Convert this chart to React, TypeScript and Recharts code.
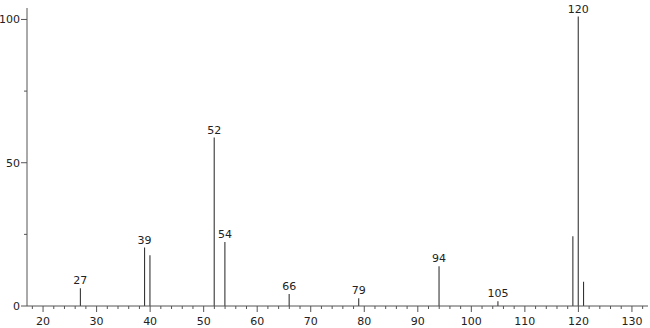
import React from 'react';
import { ComposedChart, Bar, XAxis, YAxis, LabelList } from 'recharts';

// m/z and relative intensity
const mzValues = [27, 39, 40, 52, 54, 66, 79, 94, 105, 119, 120, 121];
const intensities = [6.2, 20.4, 17.7, 58.8, 22.3, 4.2, 2.7, 13.9, 1.7, 24.3, 101, 8.5];
const labelledPeaks = [27, 39, 52, 54, 66, 79, 94, 105, 120];

const xTicks = [18, 20, 22, 24, 26, 28, 30, 32, 34, 36, 38, 40, 42, 44, 46, 48, 50, 52, 54, 56, 58, 60,
  62, 64, 66, 68, 70, 72, 74, 76, 78, 80, 82, 84, 86, 88, 90, 92, 94, 96, 98, 100, 102, 104, 106, 108,
  110, 112, 114, 116, 118, 120, 122, 124, 126, 128, 130, 132];
const yTicks = [0, 25, 50, 75, 100];

const data = mzValues.map((mz, i) => ({
  mz,
  value: intensities[i],
  label: labelledPeaks.includes(mz) ? String(mz) : '',
}));

const FONT = '"DejaVu Sans", sans-serif';
const INK = '#222';

const XTick = (props: any) => {
  const { x, y, payload } = props;
  const major = payload.value % 10 === 0;
  return (
    <g>
      <line x1={x} x2={x} y1={y} y2={y + (major ? 6 : 3)} stroke="#555" strokeWidth={1} />
      {major && (
        <text x={x} y={y + 19} textAnchor="middle" fontSize={11} fontFamily={FONT} fill={INK}>
          {payload.value}
        </text>
      )}
    </g>
  );
};

const YTick = (props: any) => {
  const { x, y, payload } = props;
  const major = payload.value % 50 === 0;
  return (
    <g>
      <line x1={x - (major ? 6 : 3)} x2={x} y1={y} y2={y} stroke="#555" strokeWidth={1} />
      {major && (
        <text x={x - 7} y={y + 4} textAnchor="end" fontSize={11} fontFamily={FONT} fill={INK}>
          {payload.value}
        </text>
      )}
    </g>
  );
};

const PeakLabel = (props: any) => {
  const { x, y, width, value } = props;
  if (!value) return null;
  return (
    <text x={x + width / 2} y={y - 4} textAnchor="middle" fontSize={11} fontFamily={FONT} fill={INK}>
      {value}
    </text>
  );
};

const App: React.FC = () => {
  return (
    <div style={{ position: 'absolute', left: 0, top: 0, background: '#fff' }}>
      <ComposedChart width={650} height={328} data={data} margin={{ top: 8, right: 2, bottom: 2, left: 0 }}>
        <XAxis
          dataKey="mz"
          type="number"
          domain={[17, 133]}
          ticks={xTicks}
          interval={0}
          allowDataOverflow
          height={20}
          tickSize={0}
          tickMargin={0}
          tickLine={false}
          tick={<XTick />}
          axisLine={{ stroke: '#555' }}
        />
        <YAxis
          type="number"
          domain={[0, 104]}
          ticks={yTicks}
          interval={0}
          allowDataOverflow
          width={27}
          tickSize={0}
          tickMargin={0}
          tickLine={false}
          tick={<YTick />}
          axisLine={{ stroke: '#555' }}
        />
        <Bar dataKey="value" fill={INK} barSize={1} isAnimationActive={false}>
          <LabelList dataKey="label" content={<PeakLabel />} />
        </Bar>
      </ComposedChart>
    </div>
  );
};

export default App;
